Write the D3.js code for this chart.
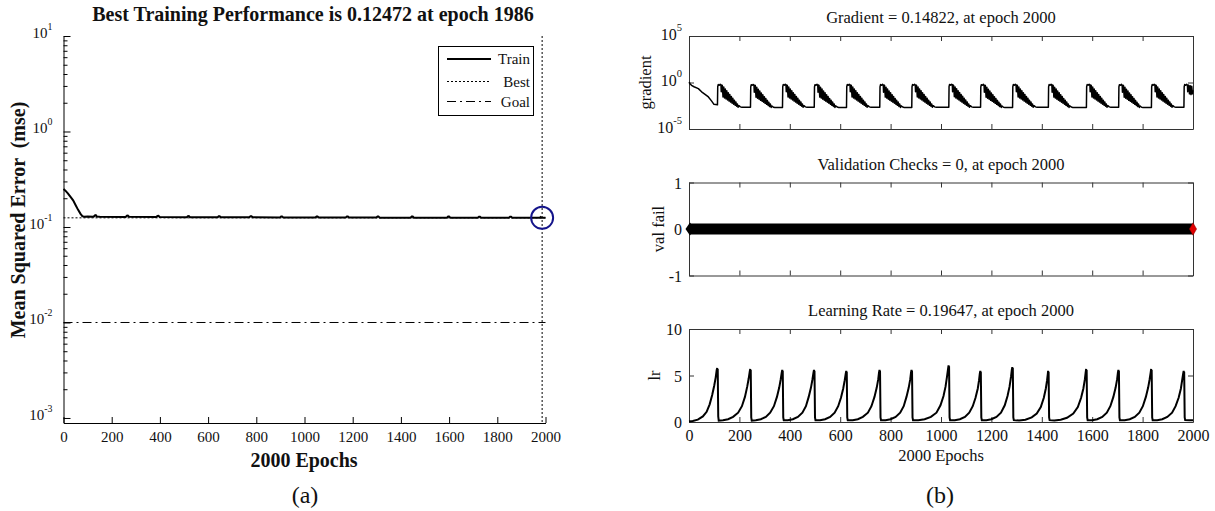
<!DOCTYPE html>
<html><head><meta charset="utf-8">
<script src="https://cdn.jsdelivr.net/npm/d3@7"></script>
<style>
body{margin:0;background:#fff}
svg{display:block}
text{font-family:"Liberation Serif","Times New Roman",serif;fill:#111}
</style>
</head><body>
<svg id="c" width="1215" height="511"></svg>
<script>
// ---------------- DATA ----------------
const epochTicks = [0,200,400,600,800,1000,1200,1400,1600,1800,2000];
const perfTickExps = [1,0,-1,-2,-3];
const bestEpoch = 1986;
const bestPerf = 0.12472;
const goalPerf = 0.01;
const trainPerf = [[0,0.25],[8,0.24],[18,0.225],[30,0.205],[40,0.19],[50,0.17],[60,0.152],[70,0.138],[78,0.13],[85,0.128],[100,0.1285],[125,0.128],[130,0.132],[134,0.133],[138,0.129],[150,0.128],[258,0.1275],[263,0.131],[267,0.1315],[272,0.128],[385,0.127],[390,0.1305],[394,0.131],[399,0.1272],[512,0.1268],[516,0.13],[520,0.1302],[525,0.1268],[640,0.1265],[644,0.1295],[648,0.1298],[653,0.1265],[771,0.1262],[776,0.1295],[780,0.1295],[785,0.1262],[898,0.126],[903,0.129],[907,0.129],[912,0.126],[1045,0.1258],[1050,0.129],[1054,0.129],[1059,0.1257],[1171,0.1255],[1176,0.1285],[1180,0.1285],[1185,0.1255],[1298,0.1254],[1303,0.1285],[1307,0.1285],[1312,0.1253],[1440,0.1252],[1445,0.129],[1449,0.129],[1454,0.1252],[1591,0.1251],[1596,0.1285],[1600,0.1285],[1605,0.125],[1719,0.125],[1724,0.1282],[1728,0.1282],[1733,0.1249],[1848,0.1249],[1853,0.128],[1857,0.128],[1862,0.1248],[1975,0.1248],[1980,0.127],[1983,0.1248],[1986,0.12472],[2000,0.12472]];
const legendLabels = ["Train","Best","Goal"];

const gradTickExps = [5,0,-5];
const gradient = [[0,0.8],[2,1.0],[3,0.75],[10,0.5],[20,0.35],[37,0.22],[50,0.1],[65,0.05],[77,0.028],[90,0.01],[99,0.0045],[113,0.004],
[114,0.35],[116,0.6],[120,0.5],[124,0.65],[127,0.45],[128,0.1],[129,0.55],[132,0.5],[135,0.028],[138,0.32],[141,0.022],[144,0.2],[147,0.017],[150,0.126],[153,0.013],[156,0.08],[159,0.01],[162,0.05],[165,0.0078],[168,0.032],[171,0.006],[174,0.02],[177,0.0047],[180,0.0126],[183,0.0036],[186,0.008],[189,0.0028],[192,0.005],[195,0.0022],[198,0.0032],[204,0.0024],[210,0.0022],[244,0.0022],
[245,0.33],[247,0.58],[251,0.5],[255,0.62],[258,0.44],[259,0.09],[260,0.52],[263,0.48],[266,0.026],[269,0.3],[272,0.02],[275,0.19],[278,0.016],[281,0.12],[284,0.012],[287,0.075],[290,0.0095],[293,0.048],[296,0.0075],[299,0.03],[302,0.0058],[305,0.019],[308,0.0045],[311,0.012],[314,0.0034],[317,0.0075],[320,0.0026],[323,0.0048],[326,0.0021],[329,0.003],[335,0.0022],[341,0.002],[371,0.002],
[372,0.35],[374,0.6],[378,0.52],[382,0.66],[385,0.45],[386,0.1],[387,0.55],[390,0.5],[393,0.028],[396,0.32],[399,0.022],[402,0.2],[405,0.017],[408,0.126],[411,0.013],[414,0.08],[417,0.01],[420,0.05],[423,0.0078],[426,0.032],[429,0.006],[432,0.02],[435,0.0047],[438,0.0126],[441,0.0036],[444,0.008],[447,0.0028],[450,0.005],[453,0.0022],[456,0.0032],[462,0.0024],[468,0.0022],[497,0.0022],
[498,0.33],[500,0.58],[504,0.5],[508,0.64],[511,0.45],[512,0.09],[513,0.54],[516,0.49],[519,0.027],[522,0.31],[525,0.021],[528,0.2],[531,0.016],[534,0.122],[537,0.0125],[540,0.078],[543,0.0098],[546,0.049],[549,0.0076],[552,0.031],[555,0.0059],[558,0.0195],[561,0.0046],[564,0.0122],[567,0.0035],[570,0.0078],[573,0.0027],[576,0.0049],[579,0.0021],[582,0.0031],[588,0.0023],[594,0.0021],[625,0.0021],
[626,0.35],[628,0.6],[632,0.5],[636,0.65],[639,0.45],[640,0.1],[641,0.55],[644,0.5],[647,0.028],[650,0.32],[653,0.022],[656,0.2],[659,0.017],[662,0.126],[665,0.013],[668,0.08],[671,0.01],[674,0.05],[677,0.0078],[680,0.032],[683,0.006],[686,0.02],[689,0.0047],[692,0.0126],[695,0.0036],[698,0.008],[701,0.0028],[704,0.005],[707,0.0022],[710,0.0032],[716,0.0024],[722,0.0022],[757,0.0022],
[758,0.34],[760,0.6],[764,0.5],[768,0.63],[771,0.45],[772,0.09],[773,0.54],[776,0.49],[779,0.027],[782,0.31],[785,0.021],[788,0.2],[791,0.016],[794,0.122],[797,0.0125],[800,0.078],[803,0.0098],[806,0.049],[809,0.0076],[812,0.031],[815,0.0059],[818,0.0195],[821,0.0046],[824,0.0122],[827,0.0035],[830,0.0078],[833,0.0027],[836,0.0049],[839,0.0021],[842,0.0031],[848,0.0023],[854,0.0021],[884,0.0021],
[885,0.35],[887,0.6],[891,0.52],[895,0.65],[898,0.45],[899,0.1],[900,0.55],[903,0.5],[906,0.028],[909,0.32],[912,0.022],[915,0.2],[918,0.017],[921,0.126],[924,0.013],[927,0.08],[930,0.01],[933,0.05],[936,0.0078],[939,0.032],[942,0.006],[945,0.02],[948,0.0047],[951,0.0126],[954,0.0036],[957,0.008],[960,0.0028],[963,0.005],[966,0.0022],[969,0.0032],[975,0.0024],[981,0.0022],[1031,0.0022],
[1032,0.36],[1034,0.62],[1038,0.52],[1042,0.66],[1045,0.46],[1046,0.1],[1047,0.56],[1050,0.5],[1053,0.029],[1056,0.33],[1059,0.022],[1062,0.21],[1065,0.017],[1068,0.13],[1071,0.013],[1074,0.082],[1077,0.01],[1080,0.051],[1083,0.0078],[1086,0.033],[1089,0.006],[1092,0.02],[1095,0.0047],[1098,0.0128],[1101,0.0036],[1104,0.008],[1107,0.0028],[1110,0.005],[1113,0.0022],[1116,0.0032],[1122,0.0024],[1128,0.0022],[1157,0.0022],
[1158,0.33],[1160,0.58],[1164,0.5],[1168,0.63],[1171,0.44],[1172,0.09],[1173,0.52],[1176,0.48],[1179,0.026],[1182,0.3],[1185,0.02],[1188,0.19],[1191,0.016],[1194,0.12],[1197,0.012],[1200,0.075],[1203,0.0095],[1206,0.048],[1209,0.0075],[1212,0.03],[1215,0.0058],[1218,0.019],[1221,0.0045],[1224,0.012],[1227,0.0034],[1230,0.0075],[1233,0.0026],[1236,0.0048],[1239,0.0021],[1242,0.003],[1248,0.0022],[1254,0.0021],[1284,0.0021],
[1285,0.35],[1287,0.6],[1291,0.5],[1295,0.65],[1298,0.45],[1299,0.1],[1300,0.55],[1303,0.5],[1306,0.028],[1309,0.32],[1312,0.022],[1315,0.2],[1318,0.017],[1321,0.126],[1324,0.013],[1327,0.08],[1330,0.01],[1333,0.05],[1336,0.0078],[1339,0.032],[1342,0.006],[1345,0.02],[1348,0.0047],[1351,0.0126],[1354,0.0036],[1357,0.008],[1360,0.0028],[1363,0.005],[1366,0.0022],[1369,0.0032],[1375,0.0024],[1381,0.0022],[1426,0.0022],
[1427,0.34],[1429,0.6],[1433,0.5],[1437,0.64],[1440,0.45],[1441,0.09],[1442,0.54],[1445,0.49],[1448,0.027],[1451,0.31],[1454,0.021],[1457,0.2],[1460,0.016],[1463,0.122],[1466,0.0125],[1469,0.078],[1472,0.0098],[1475,0.049],[1478,0.0076],[1481,0.031],[1484,0.0059],[1487,0.0195],[1490,0.0046],[1493,0.0122],[1496,0.0035],[1499,0.0078],[1502,0.0027],[1505,0.0049],[1508,0.0021],[1511,0.0031],[1517,0.0023],[1523,0.0021],[1577,0.0021],
[1578,0.35],[1580,0.6],[1584,0.52],[1588,0.65],[1591,0.45],[1592,0.1],[1593,0.55],[1596,0.5],[1599,0.028],[1602,0.32],[1605,0.022],[1608,0.2],[1611,0.017],[1614,0.126],[1617,0.013],[1620,0.08],[1623,0.01],[1626,0.05],[1629,0.0078],[1632,0.032],[1635,0.006],[1638,0.02],[1641,0.0047],[1644,0.0126],[1647,0.0036],[1650,0.008],[1653,0.0028],[1656,0.005],[1659,0.0022],[1662,0.0032],[1668,0.0024],[1674,0.0022],[1705,0.0022],
[1706,0.33],[1708,0.58],[1712,0.5],[1716,0.63],[1719,0.44],[1720,0.09],[1721,0.52],[1724,0.48],[1727,0.026],[1730,0.3],[1733,0.02],[1736,0.19],[1739,0.016],[1742,0.12],[1745,0.012],[1748,0.075],[1751,0.0095],[1754,0.048],[1757,0.0075],[1760,0.03],[1763,0.0058],[1766,0.019],[1769,0.0045],[1772,0.012],[1775,0.0034],[1778,0.0075],[1781,0.0026],[1784,0.0048],[1787,0.0021],[1790,0.003],[1796,0.0022],[1802,0.0021],[1835,0.0021],
[1836,0.35],[1838,0.6],[1842,0.5],[1846,0.65],[1849,0.45],[1850,0.1],[1851,0.55],[1854,0.5],[1857,0.028],[1860,0.32],[1863,0.022],[1866,0.2],[1869,0.017],[1872,0.126],[1875,0.013],[1878,0.08],[1881,0.01],[1884,0.05],[1887,0.0078],[1890,0.032],[1893,0.006],[1896,0.02],[1899,0.0047],[1902,0.0126],[1905,0.0036],[1908,0.008],[1911,0.0028],[1914,0.005],[1917,0.0022],[1920,0.0032],[1926,0.0024],[1932,0.0022],[1964,0.0022],
[1965,0.35],[1967,0.6],[1971,0.5],[1975,0.65],[1978,0.45],[1979,0.1],[1980,0.55],[1983,0.5],[1986,0.06],[1989,0.45],[1992,0.05],[1995,0.4],[1998,0.06],[2000,0.14822]];

const valTicks = [1,0,-1];
const valFail = [[0,0],[2000,0]];

const lrTicks = [10,5,0];
const learningRate = [[0,0.05],[15,0.1],[35,0.25],[55,0.6],[70,1.1],[82,1.9],[92,2.9],[100,3.9],[106,4.8],[110,5.6],[112,5.8],[113,5.3],[114,5.7],[116,0.6],[118,0.15],
[135,0.18],[155,0.3],[175,0.55],[195,1.0],[210,1.7],[222,2.7],[231,3.8],[237,4.7],[241,5.4],[243,5.7],[244,5.2],[245,5.6],[247,0.5],[249,0.15],
[265,0.2],[285,0.3],[305,0.55],[322,1.0],[337,1.7],[349,2.7],[358,3.7],[364,4.6],[368,5.3],[370,5.6],[371,5.1],[372,5.5],[374,0.5],[376,0.2],
[392,0.2],[412,0.3],[432,0.55],[450,1.0],[464,1.7],[475,2.7],[484,3.7],[490,4.6],[494,5.3],[496,5.6],[497,5.1],[498,5.5],[500,0.5],[502,0.2],
[520,0.2],[540,0.3],[560,0.55],[578,1.0],[592,1.7],[603,2.6],[612,3.6],[618,4.5],[622,5.2],[624,5.5],[625,5.0],[626,5.4],[628,0.5],[630,0.2],
[650,0.2],[670,0.3],[690,0.55],[710,1.0],[724,1.7],[736,2.7],[745,3.7],[751,4.6],[754,5.3],[756,5.6],[757,5.1],[758,5.5],[760,0.5],[762,0.2],
[780,0.2],[800,0.3],[820,0.55],[838,1.0],[852,1.7],[863,2.7],[872,3.7],[878,4.6],[881,5.3],[883,5.6],[884,5.1],[885,5.5],[887,0.5],[889,0.2],
[910,0.2],[935,0.3],[960,0.55],[982,1.0],[998,1.8],[1010,2.8],[1018,3.8],[1024,4.9],[1028,5.7],[1030,6.1],[1031,5.6],[1032,6.0],[1034,0.5],[1036,0.2],
[1055,0.2],[1075,0.3],[1095,0.55],[1112,1.0],[1126,1.7],[1137,2.6],[1146,3.6],[1151,4.5],[1154,5.2],[1156,5.5],[1157,5.0],[1158,5.4],[1160,0.5],[1162,0.2],
[1180,0.2],[1200,0.3],[1220,0.55],[1238,1.0],[1253,1.8],[1264,2.8],[1272,3.8],[1278,4.9],[1281,5.6],[1283,5.9],[1284,5.4],[1285,5.8],[1287,0.5],[1289,0.2],
[1310,0.15],[1335,0.25],[1360,0.5],[1380,0.9],[1396,1.6],[1408,2.6],[1416,3.6],[1421,4.5],[1424,5.2],[1425,5.5],[1426,5.0],[1427,5.4],[1429,0.5],[1431,0.2],
[1450,0.15],[1475,0.25],[1500,0.45],[1525,0.9],[1543,1.6],[1556,2.6],[1565,3.6],[1571,4.6],[1574,5.3],[1576,5.7],[1577,5.2],[1578,5.6],[1580,0.5],[1582,0.2],
[1600,0.2],[1620,0.3],[1640,0.55],[1658,1.0],[1672,1.7],[1684,2.7],[1693,3.7],[1699,4.6],[1702,5.3],[1704,5.6],[1705,5.1],[1706,5.5],[1708,0.5],[1710,0.2],
[1729,0.2],[1749,0.3],[1769,0.55],[1787,1.0],[1801,1.7],[1813,2.7],[1822,3.7],[1828,4.6],[1832,5.3],[1834,5.7],[1835,5.2],[1836,5.6],[1838,0.5],[1840,0.2],
[1858,0.2],[1878,0.3],[1898,0.55],[1917,1.0],[1931,1.7],[1943,2.6],[1952,3.6],[1957,4.5],[1961,5.2],[1963,5.5],[1964,5.0],[1965,5.4],[1967,0.5],[1969,0.2],[1985,0.19],[2000,0.19647]];

const leftTitle = "Best Training Performance is 0.12472 at epoch 1986";
const leftYLabel = "Mean Squared Error  (mse)";
const xLabel = "2000 Epochs";
const rightTitles = ["Gradient = 0.14822, at epoch 2000","Validation Checks = 0, at epoch 2000","Learning Rate = 0.19647, at epoch 2000"];
const rightYLabels = ["gradient","val fail","lr"];

// ---------------- DRAW ----------------
const svg = d3.select("#c");
const FONT = '"Liberation Serif","Times New Roman",serif';

function supLabel(sel, exp, size) {
  sel.text(null);
  sel.append("tspan").text("10");
  sel.append("tspan").attr("dy", -size*0.55).attr("font-size", size*0.66).text(exp);
}

// ===== Left panel (a) =====
const xL = d3.scaleLinear().domain([0,2000]).range([63.5,545.5]);
const yL = d3.scaleLog().domain([8.86e-4,10]).range([423,36]);
const gL = svg.append("g");

const majorVals = perfTickExps.map(e => Math.pow(10,e));
const minorVals = yL.ticks().filter(v => v >= 1e-3 && !majorVals.some(m => Math.abs(m-v)/m < 1e-6));
gL.append("g").attr("transform","translate(63.5,0)")
  .call(d3.axisLeft(yL).tickValues(minorVals).tickSize(-4).tickFormat(""))
  .call(g => g.select(".domain").remove())
  .call(g => g.selectAll("line").attr("stroke","#000"));
const yAxL = gL.append("g").attr("transform","translate(63.5,0)")
  .call(d3.axisLeft(yL).tickValues(majorVals).tickSize(-7).tickSizeOuter(0).tickPadding(9).tickFormat(""));
yAxL.select(".domain").attr("stroke","#000");
yAxL.selectAll(".tick text").each(function(d,i){
  const t = d3.select(this).attr("font-family",FONT).attr("font-size",15).attr("fill","#111")
    .attr("text-anchor","end").attr("dx",-2).attr("dy","0.1em");
  supLabel(t, perfTickExps[i], 15);
});

const xAxL = gL.append("g").attr("transform","translate(0,423)")
  .call(d3.axisBottom(xL).tickValues(epochTicks).tickSize(-6).tickSizeOuter(0).tickPadding(8).tickFormat(d3.format("d")));
xAxL.selectAll("text").attr("font-family",FONT).attr("font-size",15).attr("fill","#111");
xAxL.select(".domain").attr("stroke","#000");

const goalY = yL(goalPerf);
gL.append("line").attr("x1",xL(0)).attr("x2",xL(2000)).attr("y1",goalY).attr("y2",goalY)
  .attr("stroke","#000").attr("stroke-width",1).attr("stroke-dasharray","9,4,2,4");
gL.append("line").attr("x1",xL(0)).attr("x2",xL(2000)).attr("y1",yL(bestPerf)).attr("y2",yL(bestPerf))
  .attr("stroke","#000").attr("stroke-width",1).attr("stroke-dasharray","2,2");
gL.append("line").attr("x1",xL(bestEpoch)).attr("x2",xL(bestEpoch)).attr("y1",yL.range()[1]).attr("y2",yL.range()[0])
  .attr("stroke","#000").attr("stroke-width",1).attr("stroke-dasharray","2,2");

const lineL = d3.line().x(d => xL(d[0])).y(d => yL(d[1]));
gL.append("path").datum(trainPerf).attr("d",lineL).attr("fill","none").attr("stroke","#000").attr("stroke-width",2);

gL.append("circle").attr("cx",xL(bestEpoch)).attr("cy",yL(bestPerf)).attr("r",11)
  .attr("fill","none").attr("stroke","#14148a").attr("stroke-width",2);

const lg = gL.append("g");
lg.append("rect").attr("x",438.5).attr("y",46.5).attr("width",95).attr("height",69).attr("fill","#fff").attr("stroke","#000");
const lgY = [59,81.5,101.5];
const lgDash = [null,"2,2","9,4,2,4"];
const lgW = [2,1,1];
legendLabels.forEach((lab,i) => {
  lg.append("line").attr("x1",447).attr("x2",491).attr("y1",lgY[i]).attr("y2",lgY[i])
    .attr("stroke","#000").attr("stroke-width",lgW[i]).attr("stroke-dasharray",lgDash[i]);
  lg.append("text").attr("x",530).attr("y",lgY[i]+5).attr("text-anchor","end").attr("font-size",15).text(lab);
});

gL.append("text").attr("x",313).attr("y",21).attr("text-anchor","middle").attr("font-weight","bold").attr("font-size",20).text(leftTitle);
gL.append("text").attr("transform","translate(25,220) rotate(-90)").attr("text-anchor","middle").attr("font-weight","bold").attr("font-size",20).style("white-space","pre").text(leftYLabel);
gL.append("text").attr("x",304).attr("y",467).attr("text-anchor","middle").attr("font-weight","bold").attr("font-size",20).text(xLabel);
gL.append("text").attr("x",305).attr("y",503).attr("text-anchor","middle").attr("font-size",24).text("(a)");

// ===== Right panels (b) =====
const xR = d3.scaleLinear().domain([0,2000]).range([689,1193]);
const tops = [36,182.5,329];
const H = 93;
const yG = d3.scaleLog().domain([1e-5,1e5]).range([tops[0]+H,tops[0]]);
const yV = d3.scaleLinear().domain([-1,1]).range([tops[1]+H,tops[1]]);
const yR = d3.scaleLinear().domain([0,10]).range([tops[2]+H,tops[2]]);
const AX = "#333";
const yLabelX = [651,664,660];

function panelFrame(i, yS, yVals, yFmt, showX) {
  const g = svg.append("g");
  const top = tops[i], bot = tops[i]+H;
  const xb = g.append("g").attr("transform",`translate(0,${bot})`)
    .call(d3.axisBottom(xR).tickValues(epochTicks).tickSize(-5).tickSizeOuter(0).tickPadding(8).tickFormat(showX ? d3.format("d") : ""));
  const xt = g.append("g").attr("transform",`translate(0,${top})`)
    .call(d3.axisTop(xR).tickValues(epochTicks).tickSize(-5).tickSizeOuter(0).tickFormat(""));
  const yl = g.append("g").attr("transform",`translate(${xR(0)},0)`)
    .call(d3.axisLeft(yS).tickValues(yVals).tickSize(-5).tickSizeOuter(0).tickPadding(7).tickFormat(""));
  const yr = g.append("g").attr("transform",`translate(${xR(2000)},0)`)
    .call(d3.axisRight(yS).tickValues(yVals).tickSize(-5).tickSizeOuter(0).tickFormat(""));
  [xb,xt,yl,yr].forEach(a => { a.selectAll("path,line").attr("stroke",AX); });
  xb.selectAll("text").attr("font-family",FONT).attr("font-size",16).attr("fill","#111");
  yl.selectAll(".tick text").each(function(d,k){
    const t = d3.select(this).attr("font-family",FONT).attr("font-size",16).attr("fill","#111").attr("dy","0.35em");
    yFmt(t, d, k);
  });
  svg.append("text").attr("x",941).attr("y",top-13).attr("text-anchor","middle").attr("font-size",16.5).text(rightTitles[i]);
  svg.append("text").attr("transform",`translate(${yLabelX[i]},${top+H/2}) rotate(-90)`).attr("text-anchor","middle").attr("font-size",16.5).text(rightYLabels[i]);
  return g;
}

panelFrame(0, yG, gradTickExps.map(e => Math.pow(10,e)), (t,d,k) => { t.attr("dy","0.2em"); supLabel(t, gradTickExps[k], 16); }, false);
panelFrame(1, yV, valTicks, (t,d) => t.text(d), false);
panelFrame(2, yR, lrTicks, (t,d) => t.text(d), true);

svg.append("path").datum(gradient)
  .attr("d", d3.line().x(d => xR(d[0])).y(d => yG(d[1])))
  .attr("fill","none").attr("stroke","#000").attr("stroke-width",1.5).attr("stroke-linejoin","round");

svg.append("path").datum(valFail)
  .attr("d", d3.line().x(d => xR(d[0])).y(d => yV(d[1])))
  .attr("fill","none").attr("stroke","#000").attr("stroke-width",11);
const dia = d3.symbol().type(d3.symbolDiamond).size(70);
svg.append("path").attr("d",dia()).attr("transform",`translate(${xR(valFail[0][0])+1},${yV(valFail[0][1])}) scale(1,0.85)`).attr("fill","#000");
svg.append("path").attr("d",d3.symbol().type(d3.symbolDiamond).size(45)()).attr("transform",`translate(${xR(valFail[1][0])},${yV(valFail[1][1])})`)
  .attr("fill","#e00000").attr("stroke","#800").attr("stroke-width",0.5);

svg.append("path").datum(learningRate)
  .attr("d", d3.line().x(d => xR(d[0])).y(d => yR(d[1])))
  .attr("fill","none").attr("stroke","#000").attr("stroke-width",2);

svg.append("text").attr("x",941).attr("y",461).attr("text-anchor","middle").attr("font-size",16.5).text(xLabel);
svg.append("text").attr("x",940).attr("y",503).attr("text-anchor","middle").attr("font-size",24).text("(b)");
</script>
</body></html>
